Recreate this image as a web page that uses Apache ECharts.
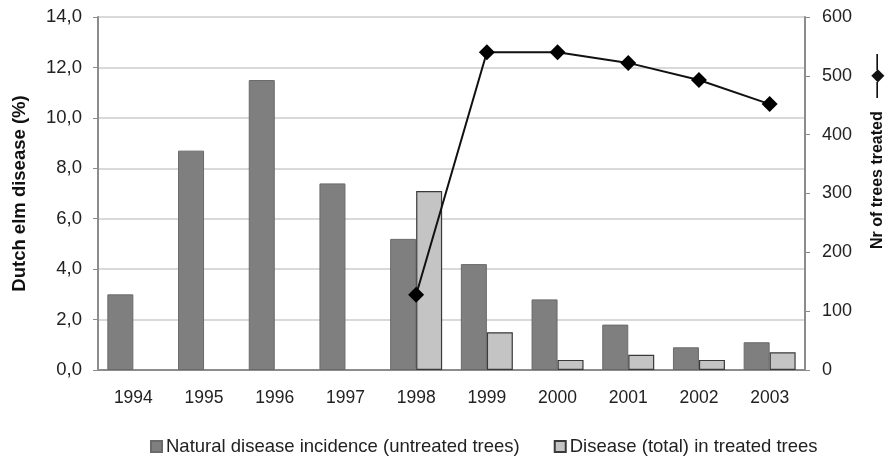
<!DOCTYPE html>
<html>
<head>
<meta charset="utf-8">
<script src="https://cdn.jsdelivr.net/npm/echarts@6/dist/echarts.min.js"></script>
<style>
  html, body { margin: 0; padding: 0; background: #fff; }
  #chart { width: 889px; height: 456px; }
</style>
</head>
<body>
<div id="chart"></div>
<script>
// Dutch elm disease incidence and number of trees treated, 1994-2003
const years = ['1994', '1995', '1996', '1997', '1998', '1999', '2000', '2001', '2002', '2003'];
const untreatedIncidence = [3.0, 8.7, 11.5, 7.4, 5.2, 4.2, 2.8, 1.8, 0.9, 1.1];
const treatedIncidence = ['-', '-', '-', '-', 7.1, 1.5, 0.4, 0.6, 0.4, 0.7];
const treesTreated = ['-', '-', '-', '-', 128, 540, 540, 522, 493, 452];

const font = 'Liberation Sans, Arial, sans-serif';
const axisGray = '#8c8c8c';

const chart = echarts.init(document.getElementById('chart'));
chart.setOption({
  animation: false,
  textStyle: { fontFamily: font },
  grid: { left: 98, right: 84, top: 17, bottom: 86, containLabel: false, outerBoundsMode: 'none' },
  legend: {
    top: 432,
    left: 145,
    itemGap: 34,
    itemWidth: 11,
    itemHeight: 11,
    textStyle: { fontSize: 18.5, color: '#222', fontFamily: font, padding: [0, 0, 0, -1] },
    data: [
      { name: 'Natural disease incidence (untreated trees)', icon: 'rect' },
      { name: 'Disease (total) in treated trees', icon: 'rect' }
    ]
  },
  xAxis: {
    type: 'category',
    data: years,
    axisLine: { lineStyle: { color: axisGray, width: 2 } },
    axisTick: { alignWithLabel: false, length: 5, lineStyle: { color: axisGray } },
    axisLabel: { fontSize: 17.5, color: '#222', margin: 19 }
  },
  yAxis: [
    {
      type: 'value',
      min: 0, max: 14, interval: 2,
      name: 'Dutch elm disease (%)',
      nameLocation: 'middle',
      nameGap: 69,
      nameTextStyle: { fontSize: 18.5, fontWeight: 'bold', color: '#111' },
      axisLine: { show: true, lineStyle: { color: axisGray, width: 2 } },
      axisTick: { show: true, length: 5, lineStyle: { color: axisGray } },
      axisLabel: {
        fontSize: 18.5, color: '#222', margin: 16,
        formatter: v => v.toFixed(1).replace('.', ',')
      },
      splitLine: { lineStyle: { color: '#d9d9d9', width: 2 } }
    },
    {
      type: 'value',
      min: 0, max: 600, interval: 100,
      position: 'right',
      name: 'Nr of trees treated   \u2014\u25C6\u2014',
      nameLocation: 'middle',
      nameRotate: 90,
      nameGap: 65,
      nameTextStyle: {
        fontSize: 16, fontWeight: 'bold', color: '#111',
        padding: [0, 0, 0, 84]
      },
      axisLine: { show: true, lineStyle: { color: axisGray, width: 2 } },
      axisTick: { show: true, length: 5, lineStyle: { color: axisGray } },
      axisLabel: { fontSize: 18, color: '#222', margin: 17 },
      splitLine: { show: false }
    }
  ],
  series: [
    {
      name: 'Natural disease incidence (untreated trees)',
      type: 'bar',
      data: untreatedIncidence,
      barWidth: 26,
      barGap: '0%',
      itemStyle: { color: '#7f7f7f', borderColor: '#6a6a6a', borderWidth: 1 }
    },
    {
      name: 'Disease (total) in treated trees',
      type: 'bar',
      data: treatedIncidence,
      barWidth: 26,
      barGap: '0%',
      itemStyle: { color: '#c4c4c4', borderColor: '#3a3a3a', borderWidth: 1.2 }
    },
    {
      name: 'Nr of trees treated',
      type: 'line',
      yAxisIndex: 1,
      data: treesTreated,
      symbol: 'diamond',
      symbolSize: 16,
      lineStyle: { color: '#111', width: 2 },
      itemStyle: { color: '#000' }
    }
  ]
});
</script>
</body>
</html>
